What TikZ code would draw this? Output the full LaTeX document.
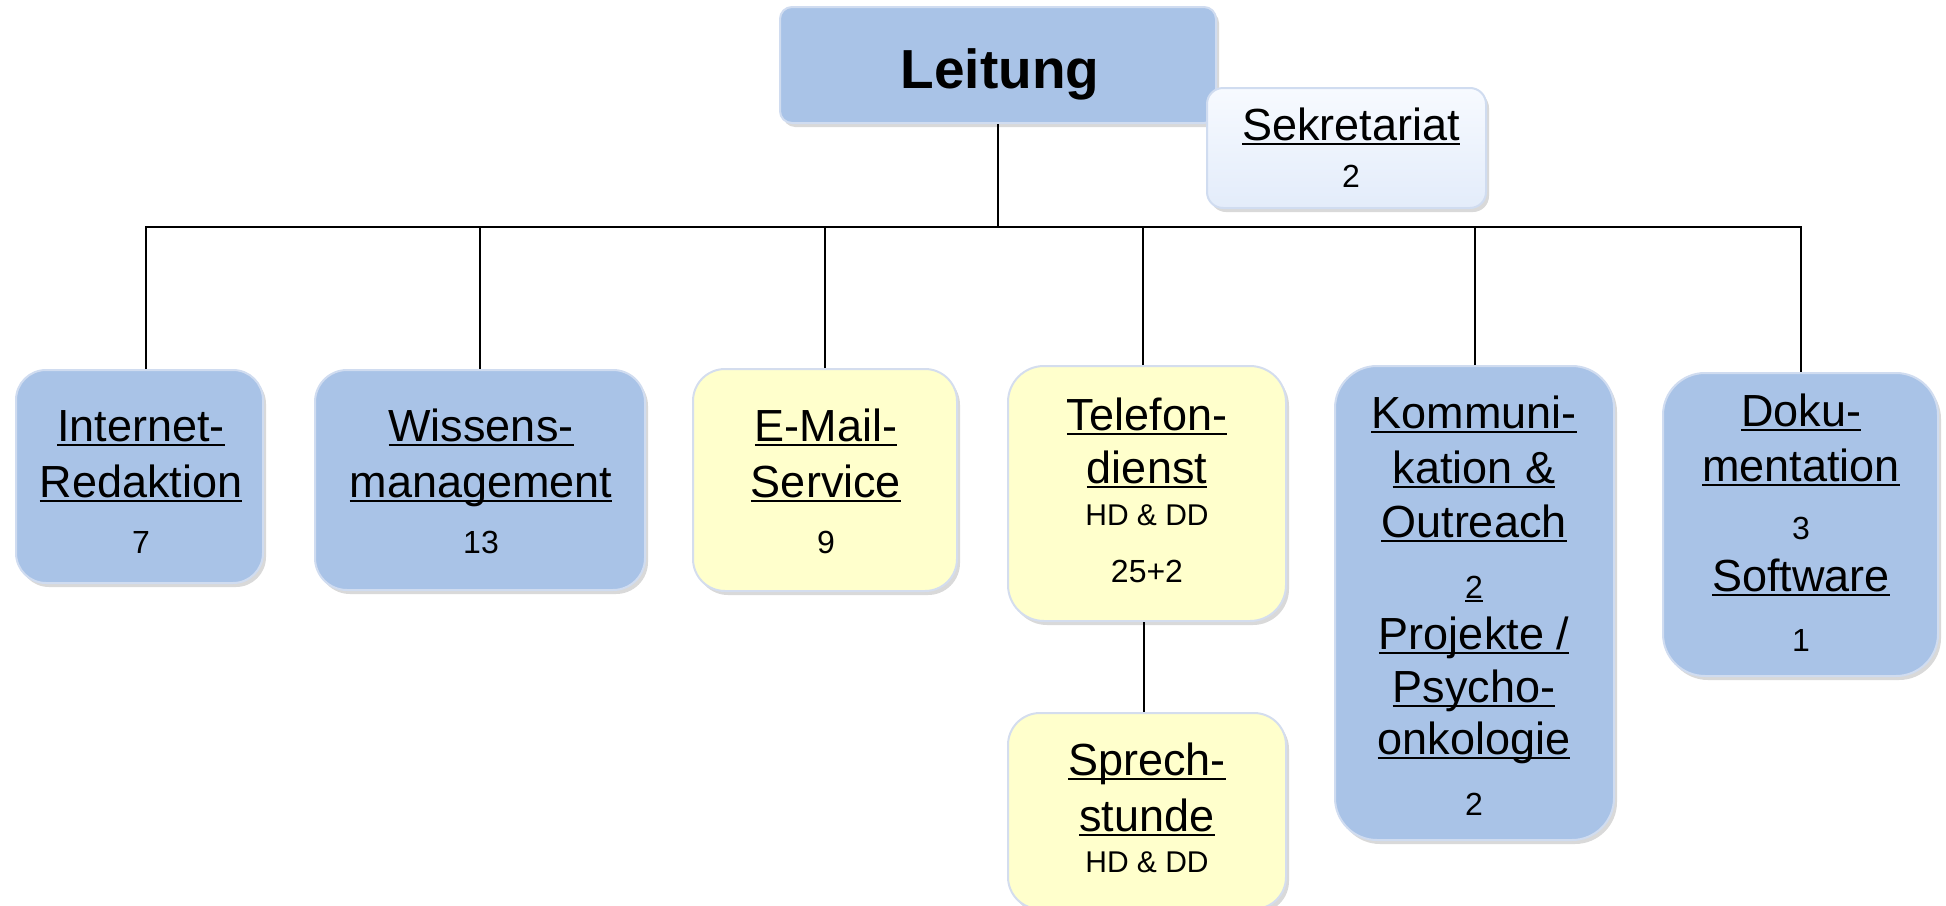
\documentclass[tikz,border=0pt]{standalone}
\usepackage{fontspec}
\setmainfont{Liberation Sans}
\usetikzlibrary{shadows,calc}
\definecolor{blueF}{RGB}{169,195,231}
\definecolor{blueE}{RGB}{208,220,240}
\definecolor{yelF}{RGB}{255,255,204}
\definecolor{yelE}{RGB}{212,221,238}
\definecolor{sekTop}{RGB}{247,250,255}
\definecolor{sekBot}{RGB}{227,236,250}
\newcommand\ulx[1]{\setbox0=\hbox{#1}\rlap{\rule[-0.11em]{\wd0}{0.05em}}\box0}
\newcommand\bigf{\fontsize{45}{54}\selectfont}
\newcommand\smf{\fontsize{30}{36}\selectfont}
\newcommand\numf{\fontsize{32}{38}\selectfont}
\tikzset{
  orgbox/.style={draw, line width=2pt, inner sep=0pt,
    drop shadow={shadow xshift=3pt, shadow yshift=-4pt, opacity=0.3}},
  bluebox/.style={orgbox, fill=blueF, draw=blueE},
  yelbox/.style={orgbox, fill=yelF, draw=yelE},
  sekbox/.style={orgbox, top color=sekTop, bottom color=sekBot, draw=blueE},
  txt/.style={anchor=base, inner sep=0pt, font=\bigf},
  sm/.style={anchor=base, inner sep=0pt, font=\smf},
  num/.style={anchor=base, inner sep=0pt, font=\numf},
  conn/.style={line width=2pt, black}
}
\begin{document}
\begin{tikzpicture}[x=1pt, y=-1pt]
\useasboundingbox (0,0) rectangle (1946,905);
\coordinate (bus) at (0,227);
% boxes
\node[bluebox, rounded corners=12pt, minimum width=436pt, minimum height=116pt] (leit) at (998,65) {};
\node[bluebox, rounded corners=30pt, minimum width=247pt, minimum height=213pt] (inet) at (139.5,476.5) {};
\node[bluebox, rounded corners=32pt, minimum width=330pt, minimum height=220pt] (wiss) at (480,480) {};
\node[yelbox, rounded corners=32pt, minimum width=264pt, minimum height=222pt] (mail) at (825,480) {};
\node[yelbox, rounded corners=36pt, minimum width=278pt, minimum height=255pt] (tel) at (1147,493.5) {};
\node[yelbox, rounded corners=32pt, minimum width=278pt, minimum height=196pt] (spr) at (1147,811) {};
\node[bluebox, rounded corners=42pt, minimum width=279pt, minimum height=474pt] (komm) at (1474.5,603) {};
\node[bluebox, rounded corners=42pt, minimum width=275pt, minimum height=303pt] (doku) at (1800.5,524.5) {};
% connector end points
\coordinate (inetTop) at ($(inet.north)+(6.5,0)$);
\coordinate (telTop) at ($(tel.north)+(-4,0)$);
\coordinate (telBot) at ($(tel.south)+(-3,0)$);
\coordinate (sprTop) at ($(spr.north)+(-3,0)$);
% connectors
\draw[conn] (leit.south) -- (leit.south |- bus);
\draw[conn] (inetTop) -- (inetTop |- bus) -- (doku.north |- bus) -- (doku.north);
\draw[conn] (wiss.north) -- (wiss.north |- bus);
\draw[conn] (mail.north) -- (mail.north |- bus);
\draw[conn] (telTop) -- (telTop |- bus);
\draw[conn] (komm.north) -- (komm.north |- bus);
\draw[conn] (telBot) -- (sprTop);
% Sekretariat on top of Leitung
\node[sekbox, rounded corners=16pt, minimum width=279pt, minimum height=120pt] (sek) at (1346.5,148) {};
% texts
\node[anchor=base, inner sep=0pt, font=\fontsize{55}{66}\selectfont\bfseries] (tleit) at (1000,88) {Leitung};
\node[anchor=base, inner sep=0pt, font=\fontsize{45}{54}\selectfont] (tsek1) at (1351,140) {\ulx{Sekretariat}};
\node[num] (tsek2) at (1351,187) {2};

\node[txt] (tin1) at (141,441) {\ulx{Internet-}};
\node[txt] (tin2) at (141,497) {\ulx{Redaktion}};
\node[num] (tin3) at (141,553) {7};

\node[txt] (twi1) at (481,441) {\ulx{Wissens-}};
\node[txt] (twi2) at (481,497) {\ulx{management}};
\node[num] (twi3) at (481,553) {13};

\node[txt] (tma1) at (826,441) {\ulx{E-Mail-}};
\node[txt] (tma2) at (826,497) {\ulx{Service}};
\node[num] (tma3) at (826,553) {9};

\node[txt] (tte1) at (1147,430) {\ulx{Telefon-}};
\node[txt] (tte2) at (1147,483) {\ulx{dienst}};
\node[sm] (tte3) at (1147,525) {HD \& DD};
\node[num] (tte4) at (1147,582) {25+2};

\node[txt] (tsp1) at (1147,775) {\ulx{Sprech-}};
\node[txt] (tsp2) at (1147,831) {\ulx{stunde}};
\node[sm] (tsp3) at (1147,872) {HD \& DD};

\node[txt] (tko1) at (1474,428) {\ulx{Kommuni-}};
\node[txt] (tko2) at (1474,483) {\ulx{kation \&}};
\node[txt] (tko3) at (1474,537) {\ulx{Outreach}};
\node[num] (tko4) at (1474,598) {\ulx{2}};
\node[txt] (tko5) at (1474,649) {\ulx{Projekte /}};
\node[txt] (tko6) at (1474,702) {\ulx{Psycho-}};
\node[txt] (tko7) at (1474,754) {\ulx{onkologie}};
\node[num] (tko8) at (1474,815) {2};

\node[txt] (tdo1) at (1801,426) {\ulx{Doku-}};
\node[txt] (tdo2) at (1801,481) {\ulx{mentation}};
\node[num] (tdo3) at (1801,539) {3};
\node[txt] (tdo4) at (1801,591) {\ulx{Software}};
\node[num] (tdo5) at (1801,651) {1};
\end{tikzpicture}
\end{document}
